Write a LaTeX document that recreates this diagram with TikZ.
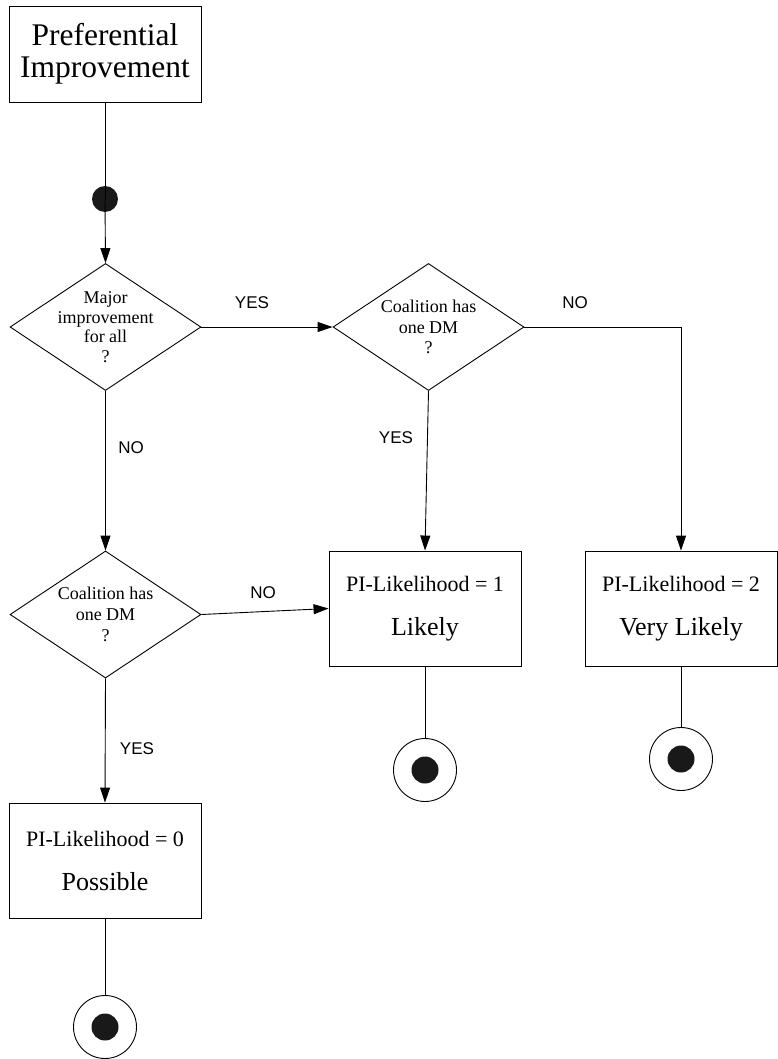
\documentclass[tikz,border=0pt]{standalone}
\usepackage{fontspec}
\setmainfont{Liberation Serif}
\newfontfamily\answerfont{Liberation Sans}
\usetikzlibrary{shapes.geometric,arrows.meta}
\begin{document}
\begin{tikzpicture}[x=1pt,y=-1pt,line width=0.9pt,
  box/.style={draw, rectangle, minimum width=192pt, minimum height=115pt,
    inner sep=0pt, align=center, font=\fontsize{26}{30}\selectfont},
  choice/.style={draw, diamond, minimum width=191pt, minimum height=127pt, inner sep=0pt},
  dtext/.style={align=center, inner sep=0pt, font=\fontsize{18}{19.5}\selectfont},
  answer/.style={inner sep=0pt, font=\answerfont\fontsize{17}{20}\selectfont},
  flow/.style={-{Triangle[length=15pt,width=10pt]}},
  startdot/.style={circle, fill=black!90, minimum size=26pt, inner sep=0pt},
  endring/.style={circle, draw, fill=white, minimum size=63pt, inner sep=0pt},
  enddot/.style={circle, fill=black!90, minimum size=27pt, inner sep=0pt}]
\useasboundingbox (0,0) rectangle (778,1059);

% start
\node[draw, rectangle, minimum width=192pt, minimum height=96pt, inner sep=0pt,
  align=center, font=\fontsize{31.5}{32}\selectfont] (pi) at (105,54) {Preferential\\Improvement};
\node[startdot] (s) at (105,199) {};

% decisions
\node[choice, label={[dtext]center:{Major\\improvement\\for all\\?}}] (d1) at (105.5,327) {};
\node[choice, label={[dtext, font=\fontsize{18}{20.5}\selectfont]center:{Coalition has\\one DM\\?}}] (d2) at (428.5,327) {};
\node[choice, label={[dtext, font=\fontsize{18}{21}\selectfont]center:{Coalition has\\one DM\\?}}] (d3) at (105.5,614.5) {};

% outcomes
\node[box] (b1) at (105,860.5) {{\fontsize{22}{26}\selectfont PI-Likelihood = 0}\\[14pt]Possible};
\node[box] (b2) at (425,608.5) {{\fontsize{22}{26}\selectfont PI-Likelihood = 1}\\[14pt]Likely};
\node[box] (b3) at (681,608.5) {{\fontsize{22}{26}\selectfont PI-Likelihood = 2}\\[14pt]Very Likely};

% final states
\node[endring] (e1) at (105,1027) {};
\node[enddot] (e1d) at (e1.center) {};
\node[endring] (e2) at (425,770) {};
\node[enddot] (e2d) at (e2.center) {};
\node[endring] (e3) at (681,759) {};
\node[enddot] (e3d) at (e3.center) {};

% connectors
\draw (pi.south) -- (s.center);
\draw[flow] (s.center) -- (d1.north);
\draw[flow] (d1.east) -- (d2.west);
\draw[flow] (d1.south) -- (d3.north);
\draw[flow] (d2.south) -- (b2.north);
\draw[flow] (d2.east) -| (b3.north);
\draw[flow] (d3.east) -- (b2.west);
\draw[flow] (d3.south) -- (b1.north);
\draw (b1.south) -- (e1.north);
\draw (b2.south) -- (e2.north);
\draw (b3.south) -- (e3.north);

% branch labels
\node[answer] (l1) at (252,303) {YES};
\node[answer] (l2) at (575,303) {NO};
\node[answer] (l3) at (396,438) {YES};
\node[answer] (l4) at (131,448) {NO};
\node[answer] (l5) at (263,593) {NO};
\node[answer] (l6) at (137,749) {YES};
\end{tikzpicture}
\end{document}
